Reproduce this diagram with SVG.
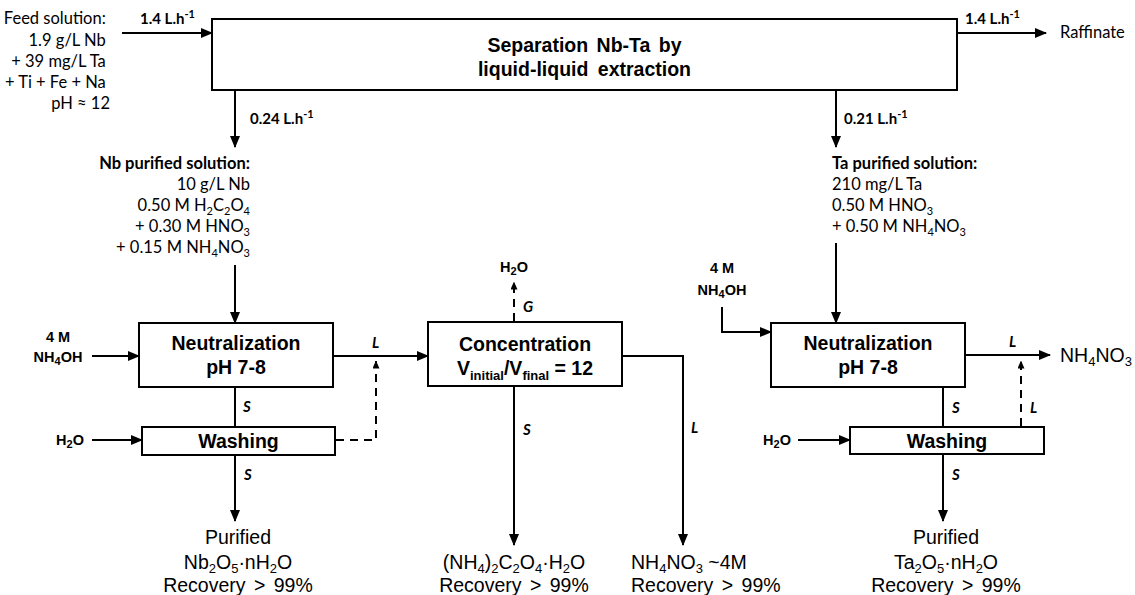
<svg xmlns="http://www.w3.org/2000/svg" width="1135" height="595" viewBox="0 0 1135 595">
<style>
.c{font-family:Lato,"Open Sans",sans-serif;font-size:16.5px;fill:#000}
.cb{font-family:Lato,"Open Sans",sans-serif;font-size:16.5px;font-weight:bold;fill:#000}
.fl{font-family:Lato,"Open Sans",sans-serif;font-size:15px;font-weight:bold;fill:#000}
.it{font-family:Lato,"Open Sans",sans-serif;font-size:15px;font-weight:bold;font-style:italic;fill:#000}
.bx{font-family:"Liberation Sans",Arial,sans-serif;font-size:19.5px;font-weight:bold;fill:#000;text-anchor:middle}
.ab{font-family:"Liberation Sans",Arial,sans-serif;font-size:14.5px;font-weight:bold;fill:#000;text-anchor:middle}
.ar{font-family:"Liberation Sans",Arial,sans-serif;font-size:19.5px;fill:#000}
.s{font-size:11px}
.sb{font-size:13px}
.box{fill:#fff;stroke:#000;stroke-width:2}
.ln{stroke:#000;stroke-width:2;fill:none}
.dash{stroke-dasharray:8 6}
</style>
<defs>
<marker id="ah" viewBox="0 0 12 10" refX="11" refY="5" markerWidth="12" markerHeight="10" markerUnits="userSpaceOnUse" orient="auto"><path d="M0,0 L12,5 L0,10 z" fill="#000"/></marker>
<marker id="as" viewBox="0 0 8 7" refX="7.5" refY="3.5" markerWidth="8" markerHeight="7" markerUnits="userSpaceOnUse" orient="auto"><path d="M0,0 L8,3.5 L0,7 z" fill="#000"/></marker>
</defs>
<rect width="1135" height="595" fill="#fff"/>

<g id="connectors">
<line class="ln" x1="122" y1="33" x2="212" y2="33" marker-end="url(#ah)"/>
<line class="ln" x1="957" y1="33" x2="1046" y2="33" marker-end="url(#ah)"/>
<line class="ln" x1="235" y1="90" x2="235" y2="147" marker-end="url(#ah)"/>
<line class="ln" x1="836" y1="90" x2="836" y2="147" marker-end="url(#ah)"/>
<line class="ln" x1="235" y1="265" x2="235" y2="323" marker-end="url(#ah)"/>
<line class="ln" x1="836" y1="243" x2="836" y2="323" marker-end="url(#ah)"/>
<line class="ln" x1="92" y1="356" x2="139" y2="356" marker-end="url(#ah)"/>
<path class="ln" d="M722,307 V332 H771" marker-end="url(#ah)"/>
<line class="ln" x1="333" y1="356" x2="428" y2="356" marker-end="url(#ah)"/>
<path class="ln dash" d="M336,440 H376 V361" marker-end="url(#as)"/>
<line class="ln" x1="235" y1="387" x2="235" y2="427"/>
<line class="ln" x1="92" y1="440" x2="142" y2="440" marker-end="url(#ah)"/>
<line class="ln" x1="235" y1="455" x2="235" y2="521" marker-end="url(#ah)"/>
<line class="ln dash" x1="514" y1="321" x2="514" y2="282" marker-end="url(#as)"/>
<line class="ln" x1="514" y1="386" x2="514" y2="545" marker-end="url(#ah)"/>
<path class="ln" d="M622,356 H683 V545" marker-end="url(#ah)"/>
<line class="ln" x1="965" y1="355" x2="1050" y2="355" marker-end="url(#ah)"/>
<line class="ln dash" x1="1021" y1="426" x2="1021" y2="361" marker-end="url(#as)"/>
<line class="ln" x1="943" y1="387" x2="943" y2="427"/>
<line class="ln" x1="798" y1="440" x2="850" y2="440" marker-end="url(#ah)"/>
<line class="ln" x1="943" y1="454" x2="943" y2="521" marker-end="url(#ah)"/>
</g>

<g id="labels">
<text class="fl" x="140" y="24">1.4 L.h<tspan class="s" dy="-6">-1</tspan></text>
<text class="fl" x="965" y="24">1.4 L.h<tspan class="s" dy="-6">-1</tspan></text>
<text class="fl" x="250" y="124">0.24 L.h<tspan class="s" dy="-6">-1</tspan></text>
<text class="fl" x="844" y="124">0.21 L.h<tspan class="s" dy="-6">-1</tspan></text>
<text class="it" x="372" y="348">L</text>
<text class="it" x="1009" y="347">L</text>
<text class="it" x="1030" y="413">L</text>
<text class="it" x="243" y="412">S</text>
<text class="it" x="244" y="480">S</text>
<text class="it" x="523" y="312">G</text>
<text class="it" x="523" y="435">S</text>
<text class="it" x="691" y="433">L</text>
<text class="it" x="952" y="413">S</text>
<text class="it" x="952" y="480">S</text>
</g>

<g id="feed">
<text class="c" text-anchor="end">
<tspan x="110" y="24">Feed solution:</tspan>
<tspan x="110" y="46">1.9 g/L Nb</tspan>
<tspan x="110" y="67">+ 39 mg/L Ta</tspan>
<tspan x="110" y="88">+ Ti + Fe + Na</tspan>
<tspan x="110" y="109">pH ≈ 12</tspan>
</text>
</g>

<g id="raffinate">
<text class="c" x="1060" y="38">Raffinate</text>
</g>

<g id="extraction">
<rect class="box" x="212" y="19" width="745" height="71"/>
<text class="bx" x="584.5" y="52" word-spacing="3">Separation Nb-Ta by</text>
<text class="bx" x="584.5" y="76" word-spacing="4">liquid-liquid extraction</text>
</g>

<g id="nb-solution">
<text class="cb" x="250" y="169" text-anchor="end">Nb purified solution:</text>
<text class="c" x="250" y="190" text-anchor="end">10 g/L Nb</text>
<text class="c" x="250" y="211" text-anchor="end">0.50 M H<tspan class="s" dy="4">2</tspan><tspan dy="-4">C</tspan><tspan class="s" dy="4">2</tspan><tspan dy="-4">O</tspan><tspan class="s" dy="4">4</tspan></text>
<text class="c" x="250" y="232" text-anchor="end">+ 0.30 M HNO<tspan class="s" dy="4">3</tspan></text>
<text class="c" x="250" y="253" text-anchor="end">+ 0.15 M NH<tspan class="s" dy="4">4</tspan><tspan dy="-4">NO</tspan><tspan class="s" dy="4">3</tspan></text>
</g>

<g id="ta-solution">
<text class="cb" x="832" y="169">Ta purified solution:</text>
<text class="c" x="832" y="190">210 mg/L Ta</text>
<text class="c" x="832" y="211">0.50 M HNO<tspan class="s" dy="4">3</tspan></text>
<text class="c" x="832" y="232">+ 0.50 M NH<tspan class="s" dy="4">4</tspan><tspan dy="-4">NO</tspan><tspan class="s" dy="4">3</tspan></text>
</g>

<g id="nh4oh-left">
<text class="ab" x="58" y="342">4 M</text>
<text class="ab" x="58" y="362">NH<tspan class="s" dy="3">4</tspan><tspan dy="-3">OH</tspan></text>
</g>

<g id="nh4oh-right">
<text class="ab" x="722" y="273">4 M</text>
<text class="ab" x="722" y="295">NH<tspan class="s" dy="3">4</tspan><tspan dy="-3">OH</tspan></text>
</g>

<g id="neutralization-nb">
<rect class="box" x="139" y="323" width="194" height="64"/>
<text class="bx" x="236" y="350">Neutralization</text>
<text class="bx" x="236" y="374">pH 7-8</text>
</g>

<g id="washing-nb">
<rect class="box" x="142" y="427" width="193" height="28"/>
<text class="bx" x="238.5" y="448">Washing</text>
</g>

<g id="h2o-left">
<text class="ab" x="70" y="445">H<tspan class="s" dy="3">2</tspan><tspan dy="-3">O</tspan></text>
</g>

<g id="concentration">
<rect class="box" x="428" y="322" width="194" height="64"/>
<text class="bx" x="525" y="351">Concentration</text>
<text class="bx" x="525" y="375">V<tspan class="sb" dy="5">initial</tspan><tspan dy="-5">/V</tspan><tspan class="sb" dy="5">final</tspan><tspan dy="-5"> = 12</tspan></text>
</g>

<g id="h2o-top">
<text class="ab" x="514" y="272">H<tspan class="s" dy="3">2</tspan><tspan dy="-3">O</tspan></text>
</g>

<g id="neutralization-ta">
<rect class="box" x="771" y="323" width="194" height="64"/>
<text class="bx" x="868" y="350">Neutralization</text>
<text class="bx" x="868" y="374">pH 7-8</text>
</g>

<g id="nh4no3-right">
<text class="ar" x="1060" y="362">NH<tspan class="sb" dy="4">4</tspan><tspan dy="-4">NO</tspan><tspan class="sb" dy="4">3</tspan></text>
</g>

<g id="washing-ta">
<rect class="box" x="850" y="427" width="194" height="27"/>
<text class="bx" x="947" y="448">Washing</text>
</g>

<g id="h2o-right">
<text class="ab" x="777" y="445">H<tspan class="s" dy="3">2</tspan><tspan dy="-3">O</tspan></text>
</g>

<g id="product-nb">
<text class="ar" x="238" y="544" text-anchor="middle">Purified</text>
<text class="ar" x="238" y="569" text-anchor="middle">Nb<tspan class="sb" dy="4">2</tspan><tspan dy="-4">O</tspan><tspan class="sb" dy="4">5</tspan><tspan dy="-4">·nH</tspan><tspan class="sb" dy="4">2</tspan><tspan dy="-4">O</tspan></text>
<text class="ar" x="238" y="592" text-anchor="middle" word-spacing="3">Recovery &gt; 99%</text>
</g>

<g id="product-oxalate">
<text class="ar" x="514" y="569" text-anchor="middle">(NH<tspan class="sb" dy="4">4</tspan><tspan dy="-4">)</tspan><tspan class="sb" dy="4">2</tspan><tspan dy="-4">C</tspan><tspan class="sb" dy="4">2</tspan><tspan dy="-4">O</tspan><tspan class="sb" dy="4">4</tspan><tspan dy="-4">·H</tspan><tspan class="sb" dy="4">2</tspan><tspan dy="-4">O</tspan></text>
<text class="ar" x="514" y="592" text-anchor="middle" word-spacing="3">Recovery &gt; 99%</text>
</g>

<g id="product-nh4no3">
<text class="ar" x="631" y="569">NH<tspan class="sb" dy="4">4</tspan><tspan dy="-4">NO</tspan><tspan class="sb" dy="4">3</tspan><tspan dy="-4"> ~4M</tspan></text>
<text class="ar" x="631" y="592" word-spacing="3">Recovery &gt; 99%</text>
</g>

<g id="product-ta">
<text class="ar" x="946" y="544" text-anchor="middle">Purified</text>
<text class="ar" x="946" y="569" text-anchor="middle">Ta<tspan class="sb" dy="4">2</tspan><tspan dy="-4">O</tspan><tspan class="sb" dy="4">5</tspan><tspan dy="-4">·nH</tspan><tspan class="sb" dy="4">2</tspan><tspan dy="-4">O</tspan></text>
<text class="ar" x="946" y="592" text-anchor="middle" word-spacing="3">Recovery &gt; 99%</text>
</g>
</svg>
